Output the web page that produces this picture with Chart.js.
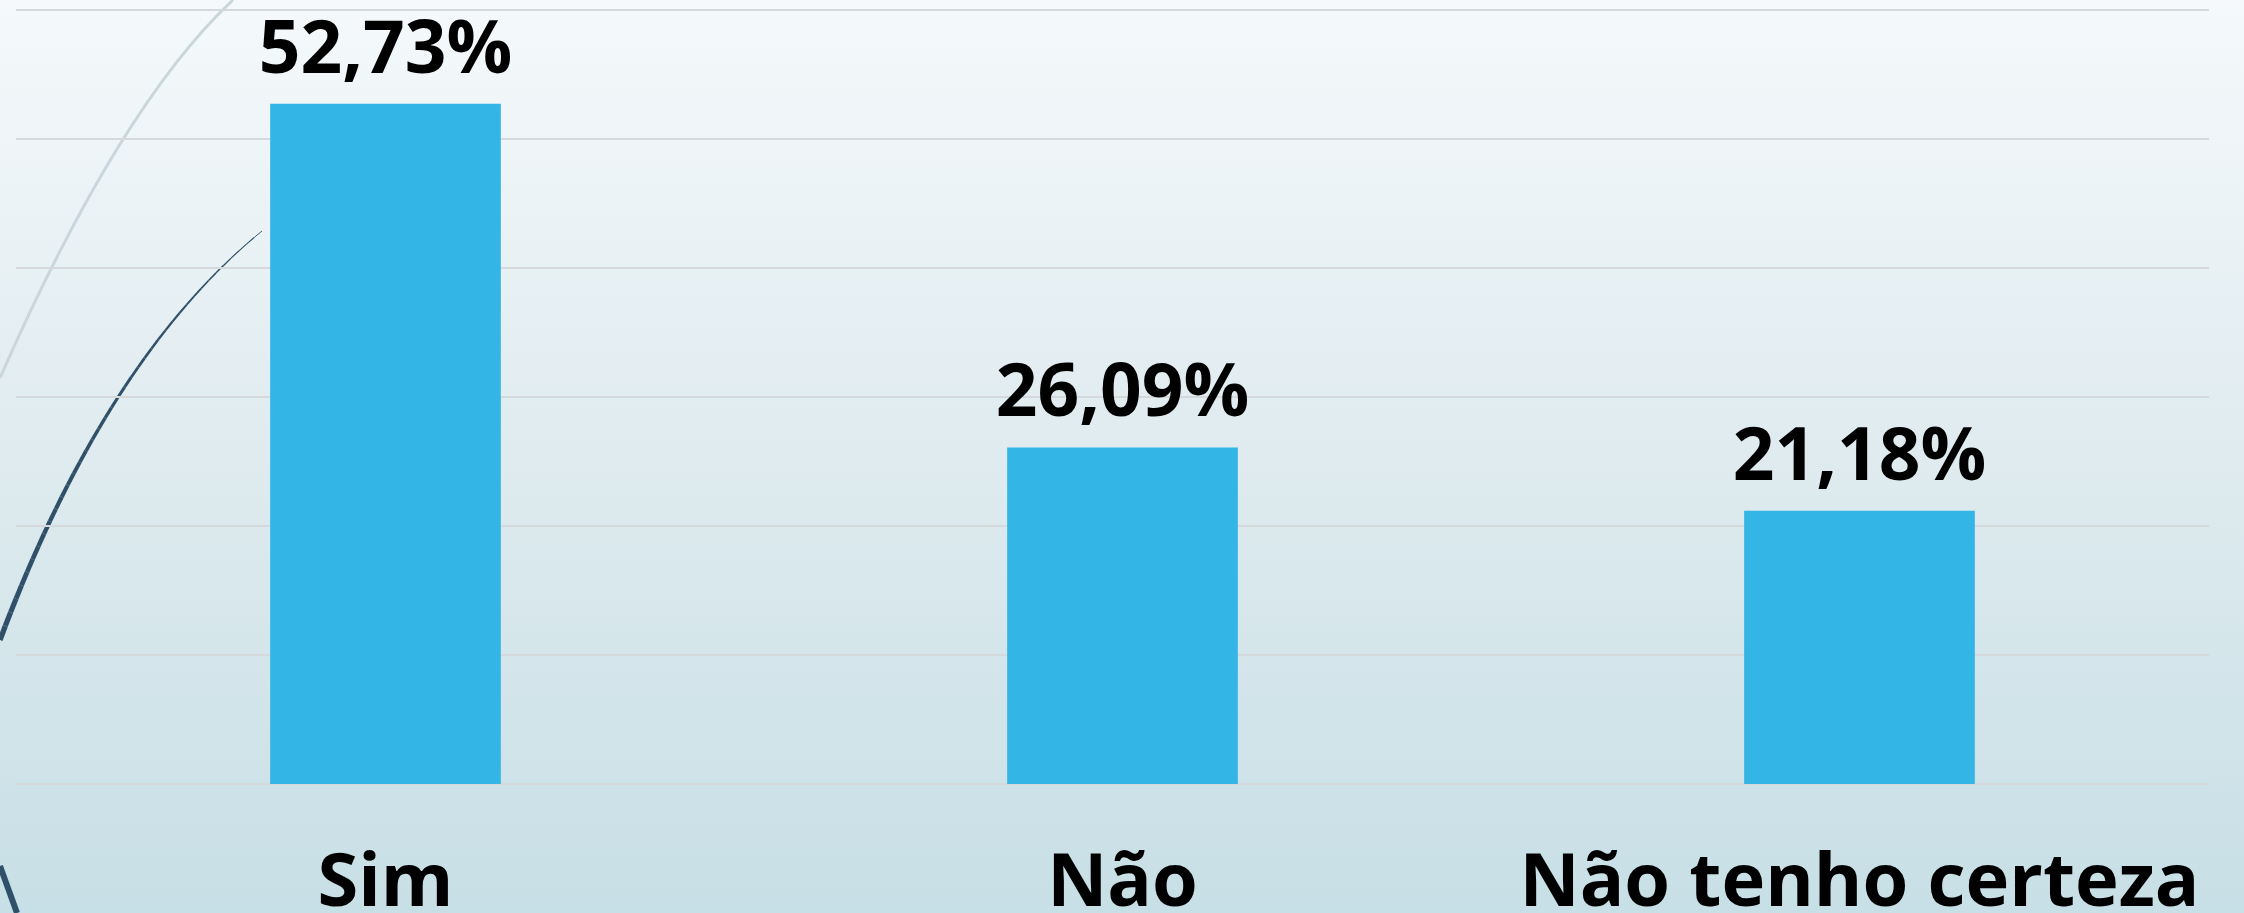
<!DOCTYPE html>
<html>
<head>
<meta charset="utf-8">
<script src="https://cdn.jsdelivr.net/npm/chart.js@4/dist/chart.umd.min.js"></script>
<style>
	html, body { margin: 0; padding: 0; background: #f5f9fb; }
	#wrap { width: 2244px; height: 913px; }
</style>
</head>
<body>
<div id="wrap"><canvas id="surveyChart" width="2244" height="913"></canvas></div>
<script>
document.addEventListener('DOMContentLoaded', () => {
	const surveyCanvas = document.getElementById('surveyChart');

	const surveyData = [
		{ answer: 'Sim', percent: 52.73 },
		{ answer: 'Não', percent: 26.09 },
		{ answer: 'Não tenho certeza', percent: 21.18 }
	];

	const fontFamily = '"Open Sans", "DejaVu Sans", sans-serif';

	// slide background with the theme swooshes on the left
	const backgroundPlugin = {
		id: 'slideBackground',
		beforeDraw: (chart) => {
			const ctx = chart.ctx;
			const w = chart.width;
			const h = chart.height;
			ctx.save();
			const grad = ctx.createLinearGradient(0, 0, 0, h);
			grad.addColorStop(0, '#f5f9fb');
			grad.addColorStop(0.5, '#dfebef');
			grad.addColorStop(1, '#c7dfe6');
			ctx.fillStyle = grad;
			ctx.fillRect(0, 0, w, h);

			ctx.strokeStyle = '#c9d6dc';
			ctx.lineWidth = 3;
			ctx.beginPath();
			ctx.moveTo(233, 0);
			ctx.quadraticCurveTo(120, 105, 0, 378);
			ctx.stroke();

			ctx.strokeStyle = '#2f5068';
			const p0 = { x: 262, y: 231 }, c = { x: 105, y: 359 }, p2 = { x: 0, y: 640 };
			const steps = 40;
			let prev = p0;
			for (let i = 1; i <= steps; i++) {
				const t = i / steps;
				const x = (1 - t) * (1 - t) * p0.x + 2 * (1 - t) * t * c.x + t * t * p2.x;
				const y = (1 - t) * (1 - t) * p0.y + 2 * (1 - t) * t * c.y + t * t * p2.y;
				ctx.lineWidth = 0.8 + 4.5 * t;
				ctx.beginPath();
				ctx.moveTo(prev.x, prev.y);
				ctx.lineTo(x, y);
				ctx.stroke();
				prev = { x, y };
			}

			ctx.lineWidth = 6;
			ctx.beginPath();
			ctx.moveTo(0, 866);
			ctx.lineTo(17, 913);
			ctx.stroke();
			ctx.restore();
		},
		// horizontal gridlines from the y scale ticks (they stop short of the right edge)
		beforeDatasetsDraw: (chart) => {
			const ctx = chart.ctx;
			const yScale = chart.scales.y;
			ctx.save();
			ctx.strokeStyle = '#d6d9db';
			ctx.lineWidth = 2;
			yScale.ticks.forEach(tick => {
				const y = Math.round(yScale.getPixelForValue(tick.value));
				ctx.beginPath();
				ctx.moveTo(16, y);
				ctx.lineTo(2209, y);
				ctx.stroke();
			});
			ctx.restore();
		}
	};

	const valueLabelPlugin = {
		id: 'valueLabels',
		afterDatasetsDraw: (chart) => {
			const ctx = chart.ctx;
			const meta = chart.getDatasetMeta(0);
			ctx.save();
			ctx.fillStyle = '#000000';
			ctx.font = 'bold 73px ' + fontFamily;
			ctx.textAlign = 'center';
			ctx.textBaseline = 'alphabetic';
			meta.data.forEach((bar, i) => {
				const v = chart.data.datasets[0].data[i];
				const text = v.toFixed(2).replace('.', ',') + '%';
				ctx.fillText(text, bar.x, bar.y - 31);
			});
			ctx.restore();
		}
	};

	new Chart(surveyCanvas.getContext('2d'), {
		type: 'bar',
		data: {
			labels: surveyData.map(d => d.answer),
			datasets: [{
				label: 'Respostas',
				data: surveyData.map(d => d.percent),
				backgroundColor: '#33b5e5',
				borderWidth: 0,
				barPercentage: 0.313,
				categoryPercentage: 1
			}]
		},
		options: {
			responsive: false,
			maintainAspectRatio: false,
			animation: false,
			layout: {
				padding: { left: 17, right: 16, top: 10, bottom: 0 }
			},
			scales: {
				x: {
					grid: { display: false, drawTicks: false },
					border: { display: false },
					afterFit: (scale) => { scale.height = 129; },
					ticks: {
						color: '#000000',
						padding: 0,
						autoSkip: false,
						maxRotation: 0,
						font: { family: fontFamily, size: 74, weight: 'bold', lineHeight: 2.74 }
					}
				},
				y: {
					min: 0,
					max: 60,
					border: { display: false },
					grid: { display: false, drawTicks: false },
					ticks: { display: false, stepSize: 10 }
				}
			},
			plugins: {
				legend: { display: false },
				tooltip: { enabled: false }
			}
		},
		plugins: [backgroundPlugin, valueLabelPlugin]
	});
});
</script>
</body>
</html>
